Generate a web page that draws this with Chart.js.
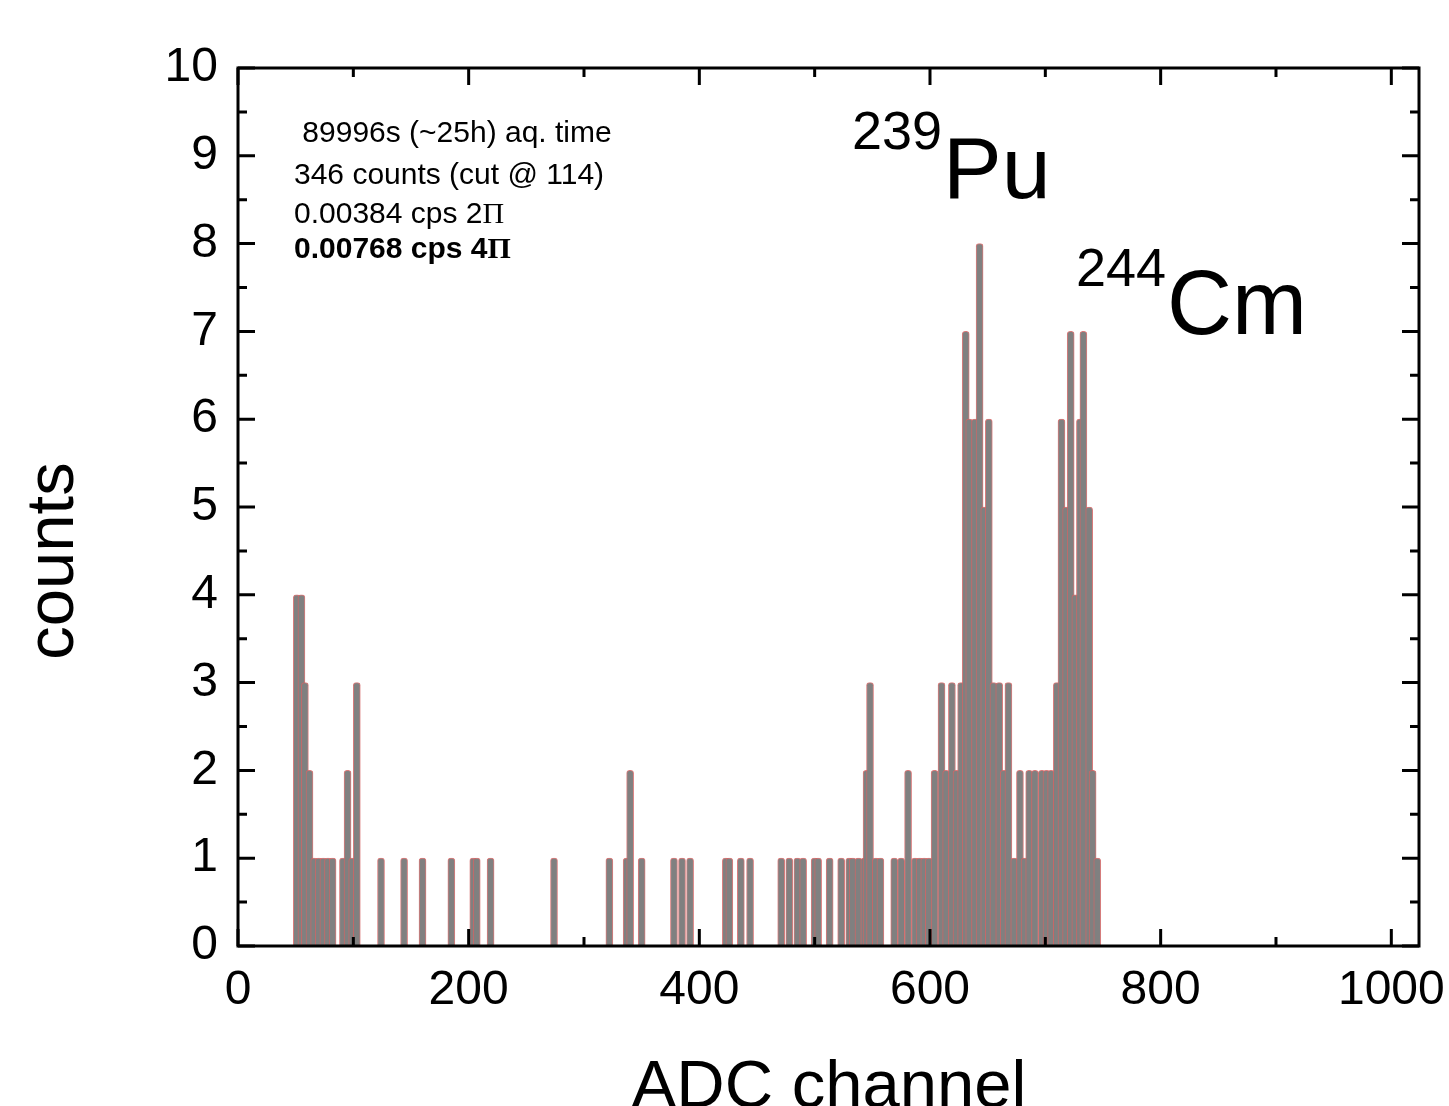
<!DOCTYPE html>
<html>
<head>
<meta charset="utf-8">
<script src="https://cdn.jsdelivr.net/npm/chart.js@4.4.1/dist/chart.umd.min.js"></script>
<style>
html,body{margin:0;padding:0;background:#fff;}
#wrap{width:1449px;height:1106px;}
</style>
</head>
<body>
<div id="wrap"><canvas id="c" width="1449" height="1106"></canvas></div>
<script>
// ---- data ----
const channels = [51,55,58,62,66,70,74,78,82,91,95,99,103,
  124,144,160,185,204,207,219,274,322,337,340,350,378,385,392,
  423,426,436,444,471,478,485,490,500,503,513,523,530,533,538,543,545,548,553,
  557,569,575,581,587,591,595,599,604,610,614,619,623,627,631,634,639,643,647,651,
  655,660,664,668,673,678,682,686,691,697,701,705,710,714,718,722,726,730,733,738,741,745];
const counts = [4,4,3,2,1,1,1,1,1,1,2,1,3,
  1,1,1,1,1,1,1,1,1,1,2,1,1,1,1,
  1,1,1,1,1,1,1,1,1,1,1,1,1,1,1,1,2,3,1,
  1,1,1,2,1,1,1,1,2,3,2,3,2,3,7,6,6,8,5,6,
  3,3,2,3,1,2,1,2,2,2,2,2,3,6,5,7,4,6,7,5,2,1];
const xTickLabels = [0,200,400,600,800,1000];
const yTickLabels = [0,1,2,3,4,5,6,7,8,9,10];
const infoLines = [" 89996s (~25h) aq. time", "346 counts (cut @ 114)", "0.00384 cps 2", "0.00768 cps 4"];

const points = channels.map((c, i) => ({x: c, y: counts[i]}));

const SANS = '"Liberation Sans", Arial, sans-serif';
const SERIF = '"Liberation Serif", "Times New Roman", serif';

const frame = {
  id: 'frame',
  afterDraw(chart) {
    const {ctx, chartArea: a, scales: {x, y}} = chart;
    ctx.save();
    ctx.strokeStyle = '#000';
    ctx.lineWidth = 3;
    ctx.lineCap = 'butt';
    ctx.beginPath();
    for (let v = 0; v <= 1000; v += 100) {
      const px = x.getPixelForValue(v);
      const len = (v % 200 === 0) ? 17 : 9;
      ctx.moveTo(px, a.bottom); ctx.lineTo(px, a.bottom - len);
      ctx.moveTo(px, a.top); ctx.lineTo(px, a.top + len);
    }
    for (let k = 0; k <= 20; k++) {
      const v = k / 2;
      const py = y.getPixelForValue(v);
      const len = (k % 2 === 0) ? 17 : 9;
      ctx.moveTo(a.left, py); ctx.lineTo(a.left + len, py);
      ctx.moveTo(a.right, py); ctx.lineTo(a.right - len, py);
    }
    ctx.stroke();
    ctx.strokeRect(a.left, a.top, a.right - a.left, a.bottom - a.top);

    ctx.fillStyle = '#000';
    ctx.font = '67px ' + SANS;
    ctx.textAlign = 'center';
    ctx.textBaseline = 'alphabetic';
    ctx.fillText('ADC channel', 829, 1107);
    ctx.save();
    ctx.translate(73, 561);
    ctx.rotate(-Math.PI / 2);
    ctx.fillText('counts', 0, 0);
    ctx.restore();

    ctx.textAlign = 'left';
    ctx.font = '54px ' + SANS;
    ctx.fillText('239', 852, 149);
    const w239 = ctx.measureText('239').width;
    ctx.font = '88px ' + SANS;
    ctx.fillText('Pu', 852 + w239 + 1, 198);
    ctx.font = '54px ' + SANS;
    ctx.fillText('244', 1076, 286);
    const w244 = ctx.measureText('244').width;
    ctx.font = '90px ' + SANS;
    ctx.fillText('Cm', 1076 + w244 + 1, 334);

    const base = [142, 184, 223, 258];
    for (let i = 0; i < infoLines.length; i++) {
      const bold = i === 3;
      ctx.font = (bold ? 'bold ' : '') + '30px ' + SANS;
      ctx.fillText(infoLines[i], 294, base[i]);
      if (i >= 2) {
        const w = ctx.measureText(infoLines[i]).width;
        ctx.font = (bold ? 'bold ' : '') + '30px ' + SERIF;
        ctx.fillText('\u03A0', 294 + w, base[i]);
      }
    }
    ctx.restore();
  }
};

new Chart(document.getElementById('c'), {
  type: 'bar',
  data: {
    datasets: [{
      data: points,
      backgroundColor: '#808080',
      borderColor: 'rgba(210,100,100,0.85)',
      borderWidth: 1,
      borderRadius: {topLeft: 3, topRight: 3, bottomLeft: 0, bottomRight: 0},
      borderSkipped: 'bottom',
      barThickness: 7
    }]
  },
  options: {
    responsive: false,
    devicePixelRatio: 1,
    animation: false,
    layout: {padding: {left: 0, right: 30, top: 68, bottom: 0}},
    plugins: {legend: {display: false}, tooltip: {enabled: false}},
    scales: {
      x: {
        type: 'linear',
        min: 0, max: 1024,
        offset: false,
        grid: {display: false, drawTicks: false, offset: false},
        border: {display: false},
        afterFit: s => { s.height = 160; s.paddingRight = 0; },
        afterBuildTicks: s => { s.ticks = xTickLabels.map(v => ({value: v})); },
        ticks: {
          color: '#000',
          font: {size: 48, family: SANS},
          padding: 16,
          maxRotation: 0,
          autoSkip: false,
          includeBounds: false,
          callback: v => String(v)
        }
      },
      y: {
        min: 0, max: 10,
        grid: {display: false, drawTicks: false},
        border: {display: false},
        afterFit: s => { s.width = 238; },
        afterBuildTicks: s => { s.ticks = yTickLabels.map(v => ({value: v})); },
        ticks: {
          color: '#000',
          font: {size: 48, family: SANS},
          padding: 20,
          autoSkip: false,
          includeBounds: false,
          callback: v => String(v)
        }
      }
    }
  },
  plugins: [frame]
});
</script>
</body>
</html>
